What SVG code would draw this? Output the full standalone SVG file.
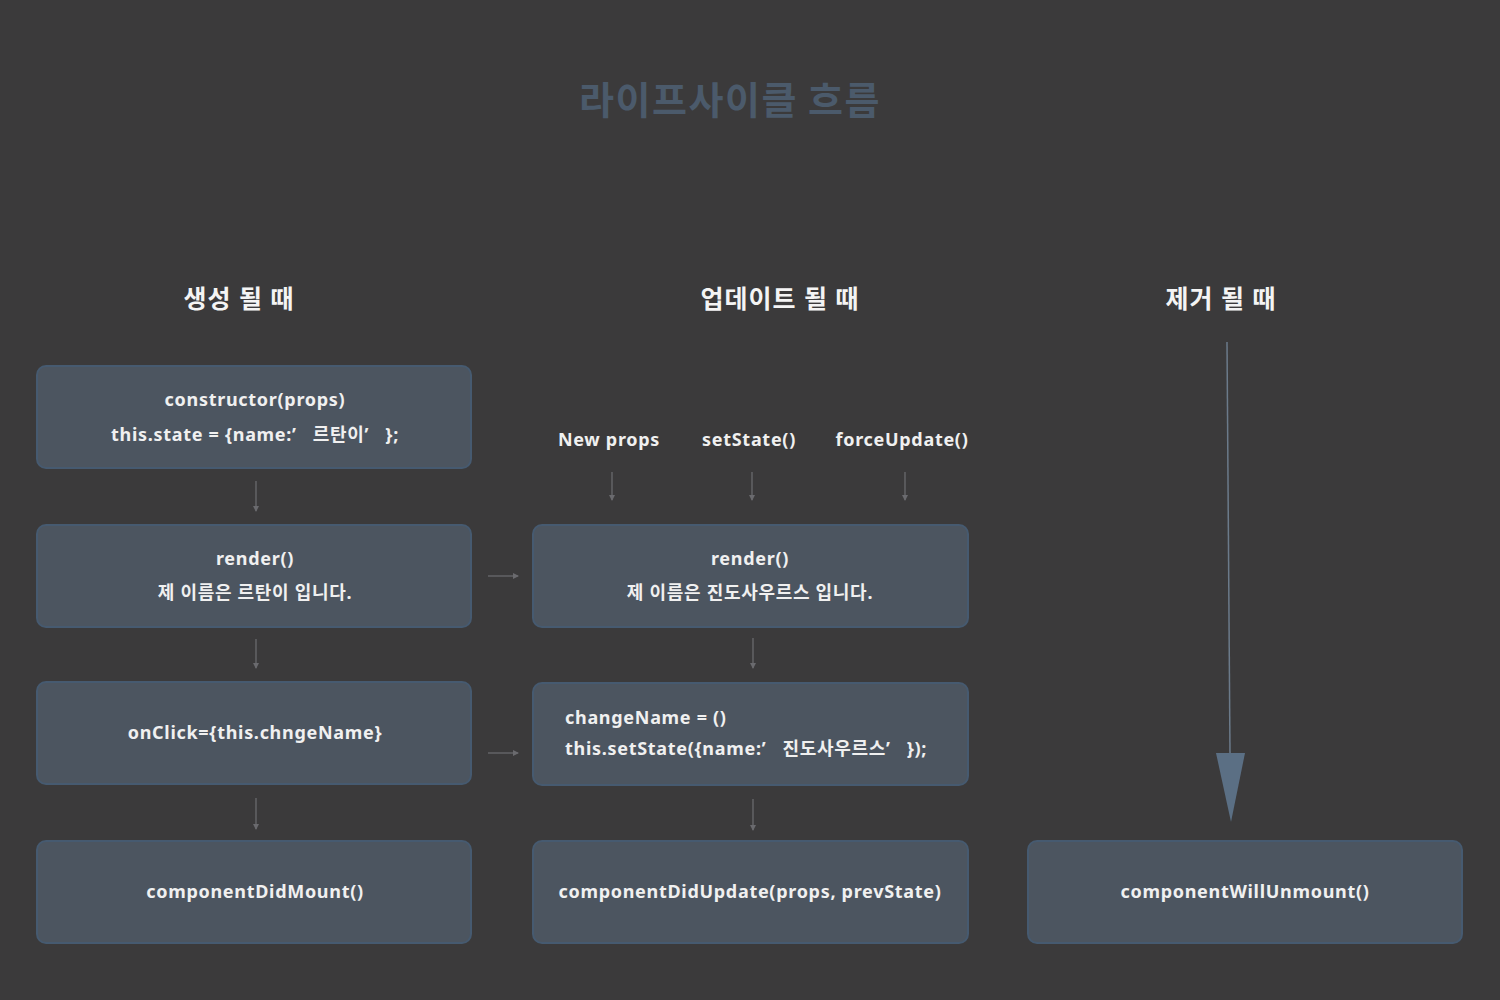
<svg xmlns="http://www.w3.org/2000/svg" width="1500" height="1000" viewBox="0 0 1500 1000">
<defs>
<style>
.bg{fill:#3b3a3b}
.box{fill:#4c5560;stroke:#465a70;stroke-width:2}
.t{font-family:"Noto Sans","Noto Sans CJK KR",sans-serif;font-weight:bold;fill:#f0f0f0;font-size:18px;letter-spacing:0.7px;text-anchor:middle}
.h{font-family:"Noto Sans","Noto Sans CJK KR",sans-serif;font-weight:bold;fill:#f4f4f4;font-size:25px;letter-spacing:1px;text-anchor:middle}
.title{font-family:"Noto Sans CJK KR",sans-serif;font-weight:bold;fill:#4b5a6b;font-size:38px;letter-spacing:1.5px;text-anchor:middle}
.c{stroke:#6a6a6e;stroke-width:1.3;fill:none;marker-end:url(#a)}
</style>
<marker id="a" markerWidth="6" markerHeight="6" refX="5" refY="3" orient="auto" markerUnits="userSpaceOnUse">
<path d="M0,0 L6,3 L0,6 z" fill="#6a6a6e"/>
</marker>
</defs>
<rect class="bg" width="1500" height="1000"/>
<text class="title" x="730" y="114">라이프사이클 흐름</text>
<g id="headers">
<text class="h" x="239" y="308">생성 될 때</text>
<text class="h" x="780" y="308">업데이트 될 때</text>
<text class="h" x="1221" y="308">제거 될 때</text>
</g>
<g id="triggers">
<text class="t" x="609" y="446">New props</text>
<text class="t" x="749" y="446">setState()</text>
<text class="t" x="902" y="446">forceUpdate()</text>
</g>
<g id="n-constructor">
<rect class="box" x="37" y="366" width="434" height="102" rx="9"/>
<text class="t" x="255" y="406">constructor(props)</text>
<text class="t" x="255" y="441">this.state = {name:’&#160;&#160; 르탄이’&#160;&#160; };</text>
</g>
<g id="n-render1">
<rect class="box" x="37" y="525" width="434" height="102" rx="9"/>
<text class="t" x="255" y="565">render()</text>
<text class="t" x="255" y="599">제 이름은 르탄이 입니다.</text>
</g>
<g id="n-onclick">
<rect class="box" x="37" y="682" width="434" height="102" rx="9"/>
<text class="t" x="255" y="739">onClick={this.chngeName}</text>
</g>
<g id="n-didmount">
<rect class="box" x="37" y="841" width="434" height="102" rx="9"/>
<text class="t" x="255" y="898">componentDidMount()</text>
</g>
<g id="n-render2">
<rect class="box" x="533" y="525" width="435" height="102" rx="9"/>
<text class="t" x="750" y="565">render()</text>
<text class="t" x="750" y="599">제 이름은 진도사우르스 입니다.</text>
</g>
<g id="n-changename">
<rect class="box" x="533" y="683" width="435" height="102" rx="9"/>
<text class="t" x="565" y="724" style="text-anchor:start">changeName = ()</text>
<text class="t" x="565" y="755" style="text-anchor:start">this.setState({name:’&#160;&#160; 진도사우르스’&#160;&#160; });</text>
</g>
<g id="n-didupdate">
<rect class="box" x="533" y="841" width="435" height="102" rx="9"/>
<text class="t" x="750" y="898">componentDidUpdate(props, prevState)</text>
</g>
<g id="n-willunmount">
<rect class="box" x="1028" y="841" width="434" height="102" rx="9"/>
<text class="t" x="1245" y="898">componentWillUnmount()</text>
</g>
<g id="connectors">
<line class="c" x1="256" y1="481" x2="256" y2="511"/>
<line class="c" x1="256" y1="639" x2="256" y2="668"/>
<line class="c" x1="256" y1="798" x2="256" y2="829"/>
<line class="c" x1="612" y1="472" x2="612" y2="500"/>
<line class="c" x1="752" y1="472" x2="752" y2="500"/>
<line class="c" x1="905" y1="472" x2="905" y2="500"/>
<line class="c" x1="753" y1="638" x2="753" y2="668"/>
<line class="c" x1="753" y1="799" x2="753" y2="830"/>
<line class="c" x1="488" y1="576" x2="518" y2="576"/>
<line class="c" x1="488" y1="753" x2="518" y2="753"/>
<line x1="1227" y1="342" x2="1230" y2="755" stroke="#6b7a8a" stroke-width="1.5"/>
<polygon points="1216,753 1245,753 1231,822" fill="#5b6f84"/>
</g>
</svg>
